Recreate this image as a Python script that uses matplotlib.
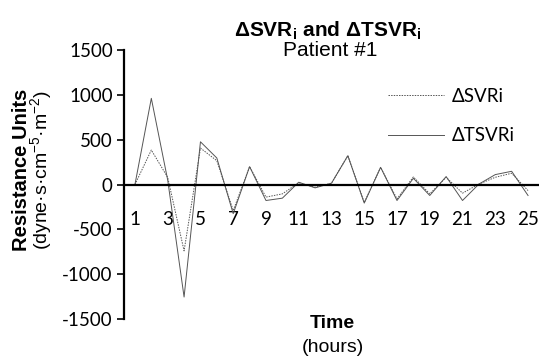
import matplotlib
matplotlib.use("Agg")
import matplotlib.pyplot as plt

hours = list(range(1, 26))
svri = [0, 385, 80, -740, 407, 266, -290, 200, -140, -104, 20, -30, 15,
        322, -200, 192, -160, 85, -104, 81, -96, 5, 81, 126, -67]
tsvri = [0, 962, 50, -1255, 477, 296, -325, 200, -178, -152, 26, -37, 15,
         322, -207, 192, -178, 70, -122, 89, -178, 5, 111, 148, -122]
xticks = list(range(1, 26, 2))
yticks = [-1500, -1000, -500, 0, 500, 1000, 1500]

plt.rcParams['mathtext.fontset'] = 'custom'
plt.rcParams['mathtext.rm'] = 'Liberation Sans'
plt.rcParams['mathtext.bf'] = 'Liberation Sans:bold'
plt.rcParams['mathtext.it'] = 'Liberation Sans:italic'

TICKFONT = 'Lato'

fig = plt.figure(figsize=(5.39, 3.58), dpi=100)
ax = fig.add_axes([0.230, 0.109, 0.770, 0.751])

ax.plot(hours, svri, color='#555555', lw=0.7, ls=(0, (1.5, 1.2)), label='ΔSVRi')
ax.plot(hours, tsvri, color='#555555', lw=0.7, ls='-', label='ΔTSVRi')

ax.set_xlim(0.33, 25.67)
ax.set_ylim(-1500, 1500)
ax.spines['top'].set_visible(False)
ax.spines['right'].set_visible(False)
ax.spines['bottom'].set_position(('data', 0))
ax.spines['bottom'].set_linewidth(1.6)
ax.spines['left'].set_linewidth(1.6)
ax.set_xticks(xticks)
ax.set_xticklabels([str(v) for v in xticks], family=TICKFONT, fontsize=13.5)
ax.tick_params(axis='x', length=0, pad=19)
ax.set_yticks(yticks)
ax.set_yticklabels([str(v) for v in yticks], family=TICKFONT, fontsize=13.5)
ax.tick_params(axis='y', length=5, width=1.2, direction='out', pad=3)

leg = ax.legend(loc='center left', bbox_to_anchor=(0.635, 0.755), frameon=False,
                prop={'family': TICKFONT, 'size': 13.5}, handlelength=3.0,
                labelspacing=1.2, handletextpad=0.4, borderpad=0, borderaxespad=0)

fig.text(0.607, 0.915, r'ΔSVR$_\mathbf{i}$ and ΔTSVR$_\mathbf{i}$', ha='center', va='center',
         family='Liberation Sans', fontsize=15, fontweight='bold')
fig.text(0.612, 0.858, 'Patient #1', ha='center', va='center',
         family='Liberation Sans', fontsize=15)

fig.text(0.039, 0.525, 'Resistance Units', rotation=90, ha='center', va='center',
         family='Liberation Sans', fontsize=14.5, fontweight='bold')
fig.text(0.077, 0.525, r'(dyne·s·cm$^{-5}$·m$^{-2}$)', rotation=90, ha='center', va='center',
         family='Liberation Sans', fontsize=14)

fig.text(0.616, 0.096, 'Time', ha='center', va='center',
         family='Liberation Sans', fontsize=14, fontweight='bold')
fig.text(0.618, 0.029, '(hours)', ha='center', va='center',
         family='Liberation Sans', fontsize=14)

fig.savefig('out.png', dpi=100)
